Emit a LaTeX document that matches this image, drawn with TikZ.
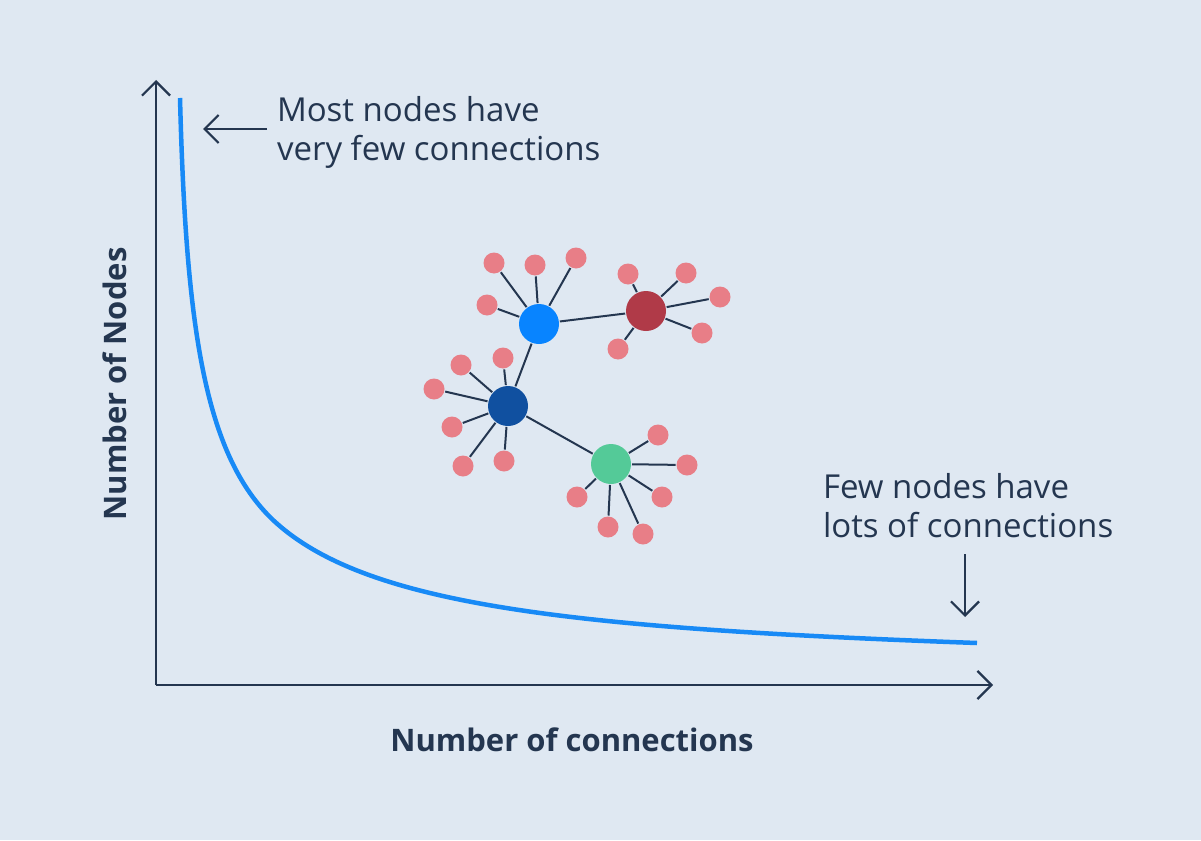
\documentclass[tikz,border=0pt]{standalone}
\usepackage{fontspec}
\setmainfont{Open Sans}
\usetikzlibrary{arrows.meta,shapes,positioning}

\definecolor{bgblue}{RGB}{223,232,242}
\definecolor{inkblue}{RGB}{36,54,80}
\definecolor{curveblue}{RGB}{24,138,246}
\definecolor{hubblue}{RGB}{8,132,255}
\definecolor{hubred}{RGB}{176,58,72}
\definecolor{hubdark}{RGB}{16,80,160}
\definecolor{hubgreen}{RGB}{84,202,152}
\definecolor{leafpink}{RGB}{232,126,135}

\begin{document}
\begin{tikzpicture}[x=1pt,y=-1pt,>={Straight Barb[length=14pt,width=28pt,line width=2.2pt]},
                    line width=2pt]
\tikzstyle{hub}=[circle,draw=none,inner sep=0pt,minimum size=40pt]
\tikzstyle{leaf}=[circle,draw=none,fill=leafpink,inner sep=0pt,minimum size=21pt]
\tikzstyle{link}=[draw=inkblue,line width=2pt]
\tikzstyle{axis}=[->,draw=inkblue,line width=2.4pt]
\tikzstyle{note}=[->,draw=inkblue,line width=2pt]
\tikzstyle{txt}=[inner sep=0pt,text=inkblue,font=\fontsize{33}{38.5}\selectfont,align=left]
\tikzstyle{lbl}=[inner sep=0pt,text=inkblue,font=\fontsize{31}{36}\selectfont\bfseries]

\fill[bgblue] (0,0) rectangle (1201,840);
\useasboundingbox (0,0) rectangle (1201,840);

% axes
\coordinate (origin) at (156,685);
\coordinate (ytop) at (156,80);
\coordinate (xend) at (993,685);
\draw[axis] (origin) -- (ytop);
\draw[axis] (origin) -- (xend);

\node[lbl] (xlabel) [anchor=base] at (572,751) {Number of connections};
\node[lbl,rotate=90] (ylabel) [anchor=base] at (126,384) {Number of Nodes};

% degree curve
\draw[curveblue,line width=4.5pt] (180,98) .. controls (186,330) and (205,455) .. (273,520)
  .. controls (363,604) and (560,628) .. (977,643);

% notes
\node[txt] (most) [anchor=base west] at (276,160) {Most nodes have\\very few connections};
\coordinate (most_tip) at (203,129);
\draw[note] (267,129) -- (most_tip);

\node[txt] (few) [anchor=base west] at (822,537) {Few nodes have\\lots of connections};
\coordinate (few_top) at (965,554);
\coordinate (few_tip) at (965,617);
\draw[note] (few_top) -- (few_tip);

% network
\node[hub,fill=hubblue] (hub_blue) at (539,324) {};
\node[hub,fill=hubred] (hub_red) at (646,311) {};
\node[hub,fill=hubdark] (hub_dark) at (508,406) {};
\node[hub,fill=hubgreen] (hub_green) at (611,464) {};

\node[leaf] (blue1) at (494,263) {};
\node[leaf] (blue2) at (535,265) {};
\node[leaf] (blue3) at (576,258) {};
\node[leaf] (blue4) at (487,305) {};

\node[leaf] (red1) at (628,274) {};
\node[leaf] (red2) at (686,273) {};
\node[leaf] (red3) at (720,297) {};
\node[leaf] (red4) at (702,333) {};
\node[leaf] (red5) at (618,349) {};

\node[leaf] (dark1) at (503,358) {};
\node[leaf] (dark2) at (461,365) {};
\node[leaf] (dark3) at (434,389) {};
\node[leaf] (dark4) at (452,427) {};
\node[leaf] (dark5) at (463,466) {};
\node[leaf] (dark6) at (504,461) {};

\node[leaf] (green1) at (658,435) {};
\node[leaf] (green2) at (687,465) {};
\node[leaf] (green3) at (662,497) {};
\node[leaf] (green4) at (577,497) {};
\node[leaf] (green5) at (608,527) {};
\node[leaf] (green6) at (643,534) {};

\draw[link] (hub_blue) -- (hub_red);
\draw[link] (hub_blue) -- (hub_dark);
\draw[link] (hub_dark) -- (hub_green);

\draw[link] (hub_blue) -- (blue1);
\draw[link] (hub_blue) -- (blue2);
\draw[link] (hub_blue) -- (blue3);
\draw[link] (hub_blue) -- (blue4);

\draw[link] (hub_red) -- (red1);
\draw[link] (hub_red) -- (red2);
\draw[link] (hub_red) -- (red3);
\draw[link] (hub_red) -- (red4);
\draw[link] (hub_red) -- (red5);

\draw[link] (hub_dark) -- (dark1);
\draw[link] (hub_dark) -- (dark2);
\draw[link] (hub_dark) -- (dark3);
\draw[link] (hub_dark) -- (dark4);
\draw[link] (hub_dark) -- (dark5);
\draw[link] (hub_dark) -- (dark6);

\draw[link] (hub_green) -- (green1);
\draw[link] (hub_green) -- (green2);
\draw[link] (hub_green) -- (green3);
\draw[link] (hub_green) -- (green4);
\draw[link] (hub_green) -- (green5);
\draw[link] (hub_green) -- (green6);
\end{tikzpicture}
\end{document}
